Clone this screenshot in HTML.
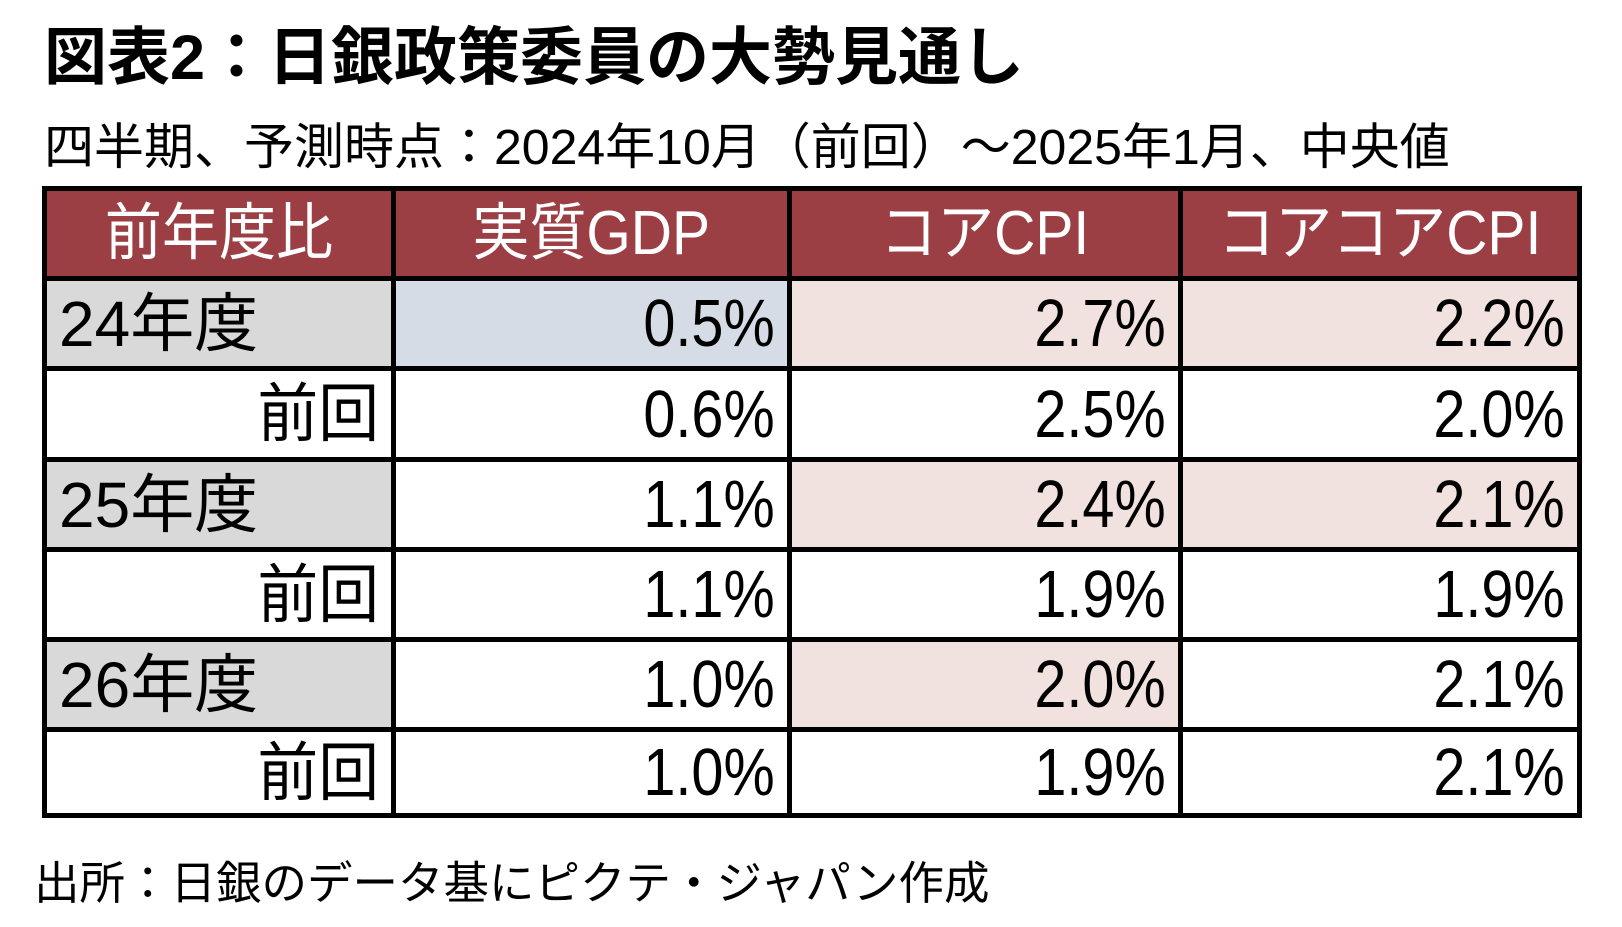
<!DOCTYPE html>
<html><head><meta charset="utf-8">
<style>
html,body{margin:0;padding:0;background:#fff;}
body{width:1622px;height:927px;position:relative;overflow:hidden;font-family:"Liberation Sans","Noto Sans CJK JP",sans-serif;color:#000;}
#title{position:absolute;left:44px;top:20px;font-size:63px;font-weight:bold;line-height:76px;white-space:nowrap;}
#subtitle{position:absolute;left:44px;top:120px;font-size:49.5px;line-height:56px;white-space:nowrap;transform:scaleX(1.01);transform-origin:left center;}
#source{position:absolute;left:34px;top:856px;font-size:45.5px;line-height:56px;white-space:nowrap;}
#tbl{position:absolute;left:42px;top:186px;width:1540px;height:632px;background:#000;}
.cell{position:absolute;box-sizing:border-box;line-height:1;display:flex;align-items:center;white-space:nowrap;}
.cell span{display:inline-block;}
</style></head><body>
<div id="title">図表2：日銀政策委員の大勢見通し</div>
<div id="subtitle">四半期、予測時点：2024年10月（前回）～2025年1月、中央値</div>
<div id="tbl"></div>
<div id="source">出所：日銀のデータ基にピクテ・ジャパン作成</div>
<script>
const headers = ["前年度比","実質GDP","コアCPI","コアコアCPI"];
const rowLabels = ["24年度","前回","25年度","前回","26年度","前回"];
const gdp = [0.5,0.6,1.1,1.1,1.0,1.0];
const coreCpi = [2.7,2.5,2.4,1.9,2.0,1.9];
const coreCoreCpi = [2.2,2.0,2.1,1.9,2.1,2.1];
const highlight = [["blue","","","","",""],["pink","","pink","","pink",""],["pink","","pink","","",""]];

const tbl = document.getElementById('tbl');
const colX = [0,349,745,1136,1540];
const rowY = [0,90,180,271,361,451,541,632];
const b = 5;
function cell(c,r,text,bg,color,align,name,fs,sx){
  const d=document.createElement('div');
  d.className='cell';
  d.style.left=(colX[c]+b)+'px';
  d.style.top=(rowY[r]+b)+'px';
  d.style.width=(colX[c+1]-colX[c]-b-(c===3?b:0))+'px';
  d.style.height=(rowY[r+1]-rowY[r]-b-(r===6?b:0))+'px';
  d.style.background=bg;
  d.style.color=color;
  d.style.justifyContent=align;
  d.style.padding=align==='center'?'0':(align==='flex-end'?'0 12px 0 0':'0 0 0 12px');
  const s=document.createElement('span');
  s.style.fontSize=fs+'px';
  s.style.transform='scaleX('+sx+')';
  s.style.transformOrigin=align==='center'?'center':(align==='flex-end'?'right center':'left center');
  s.textContent=text;
  d.appendChild(s);
  
  
  tbl.appendChild(d);
}
headers.forEach((h,i)=>cell(i,0,h,'#9c3f45','#fff','center','header-'+i,62,0.92));
const series=[gdp,coreCpi,coreCoreCpi];
rowLabels.forEach((lab,r)=>{
  const isYear = r%2===0;
  cell(0,r+1,lab,isYear?'#d9d9d9':'#fff','#000',isYear?'flex-start':'flex-end','row-label-'+r,64,isYear?1.0:0.95);
  series.forEach((s,k)=>{
    const h=highlight[k][r];
    const bg=h==='blue'?'#d6dce5':(h==='pink'?'#f2e2df':'#fff');
    cell(k+1,r+1,s[r].toFixed(1)+'%',bg,'#000','flex-end','value-r'+r+'-c'+k,67,0.86);
  });
});
</script>
</body></html>
